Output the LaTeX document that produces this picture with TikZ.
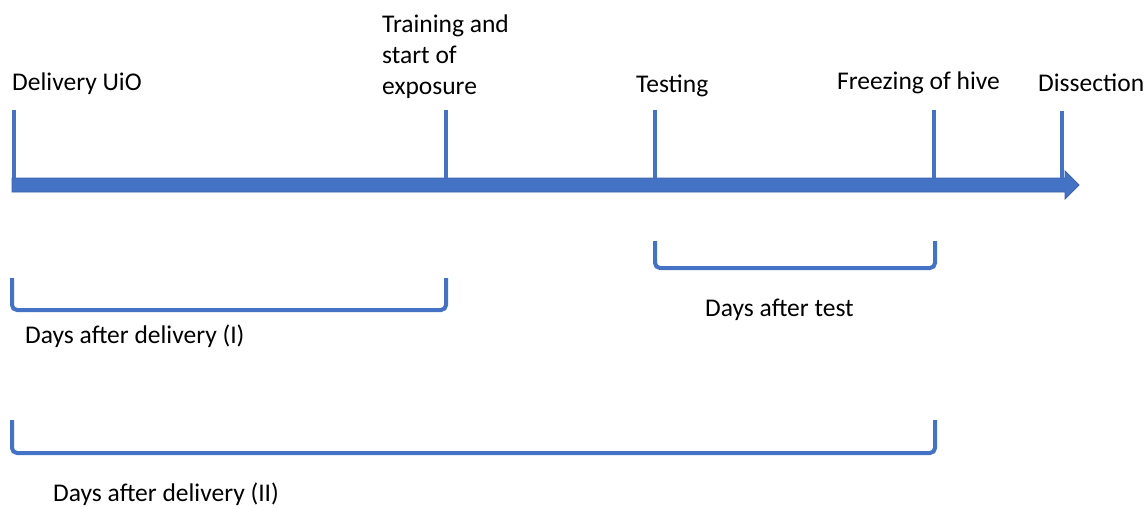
\documentclass[tikz,border=0pt]{standalone}
\usepackage{fontspec}
\setmainfont{Carlito}
\definecolor{tlblue}{HTML}{4472C4}
\definecolor{tldark}{HTML}{3A62A8}
\begin{document}
\begin{tikzpicture}[x=1pt,y=-1pt,
  tick/.style={draw=tlblue,line width=4pt},
  brace/.style={draw=tlblue,line width=4pt,rounded corners=5pt},
  lbl/.style={font=\fontsize{25.5}{31}\selectfont,anchor=west,inner sep=0pt,text=black},
  ]
\useasboundingbox (0,0) rectangle (1147,508);
% main arrow
\filldraw[fill=tlblue,draw=tldark,line width=0.8pt]
  (12,178) -- (1065,178) -- (1065,171) -- (1079,185) -- (1065,199) -- (1065,192) -- (12,192) -- cycle;
% ticks
\coordinate (t1a) at (14,110); \coordinate (t1b) at (14,178);
\coordinate (t2a) at (446,110); \coordinate (t2b) at (446,178);
\coordinate (t3a) at (655,110); \coordinate (t3b) at (655,178);
\coordinate (t4a) at (934,110); \coordinate (t4b) at (934,178);
\coordinate (t5a) at (1062,111); \coordinate (t5b) at (1062,178);
\foreach \i in {1,...,5} {\draw[tick] (t\i a) -- (t\i b);}
% labels
\node[lbl] (l1) at (12,84) {Delivery UiO};
\node[lbl,align=left] (l2) at (382,57) {Training and\\start of\\exposure};
\node[lbl] (l3) at (636,86) {Testing};
\node[lbl] (l4) at (837,83) {Freezing of hive};
\node[lbl] (l5) at (1038,83) {Dissection};
% brackets
\draw[brace] (12,278) -- (12,310) -- (446,310) -- (446,278);
\draw[brace] (655,241) -- (655,268) -- (935,268) -- (935,241);
\draw[brace] (12,420) -- (12,453) -- (935,453) -- (935,420);
\node[lbl] (b1) at (25,336) {Days after delivery (I)};
\node[lbl] (b2) at (705,310) {Days after test};
\node[lbl] (b3) at (53,494) {Days after delivery (II)};
\end{tikzpicture}
\end{document}
